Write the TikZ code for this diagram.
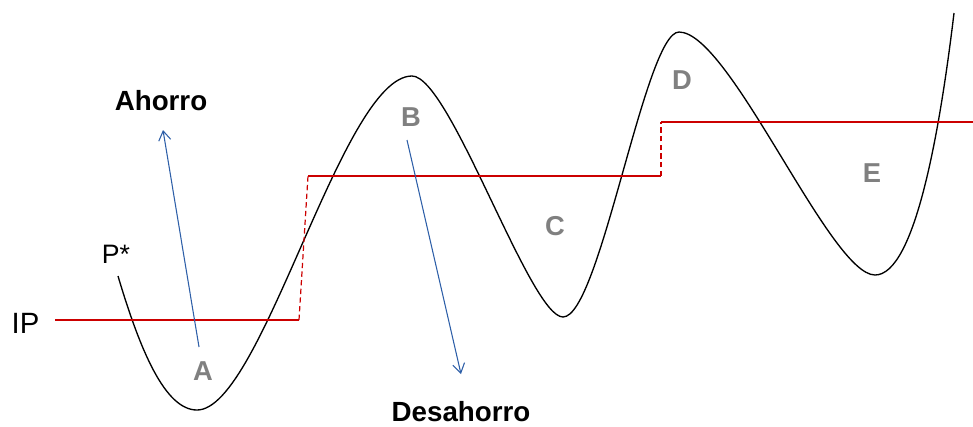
\documentclass[tikz,border=0pt]{standalone}
\usepackage{fontspec}
\setmainfont{Liberation Sans}
\usetikzlibrary{arrows.meta}
\definecolor{ipred}{RGB}{204,0,0}
\definecolor{flowblue}{RGB}{46,95,168}
\definecolor{zonegray}{RGB}{128,128,128}
\begin{document}
\begin{tikzpicture}[x=0.75pt,y=-0.75pt, every node/.style={font=\fontsize{20}{24}\selectfont,inner sep=0pt},
  zone/.style={font=\fontsize{20.5}{24}\selectfont\bfseries,text=zonegray},
  lbl/.style={font=\fontsize{20.8}{24}\selectfont\bfseries},
  ip/.style={draw=ipred,line width=0.9pt},
  jump/.style={ip,dash pattern=on 4pt off 2.5pt},
  flow/.style={draw=flowblue,line width=0.8pt,-{Straight Barb[length=7pt,width=9pt]}}]
\useasboundingbox (0,0) rectangle (973,426);
\draw[line width=1pt] (118,276) .. controls (140,350) and (165,410) .. (197,410)
  .. controls (262,410) and (342,76) .. (412,76) .. controls (450,76) and (530,317) .. (563,317)
  .. controls (600,317) and (645,32) .. (679,32) .. controls (730,32) and (830,275) .. (875,275)
  .. controls (915,275) and (940,130) .. (954,13);
\draw[ip] (55,320) -- (299,320); \draw[jump] (299,320) -- (308,176);
\draw[ip] (308,176) -- (661,176); \draw[jump] (661,176) -- (661,122);
\draw[ip] (661,122) -- (973,122);
\node[font=\fontsize{22}{26}\selectfont] (ip) at (25.5,323.5) {IP};
\node (pstar) at (116,254) {P*};
\node[lbl] (ahorro) at (161,101) {Ahorro};
\node[lbl] (desahorro) at (461,412) {Desahorro};
\node[zone] (a) at (203,371) {A};
\node[zone] (b) at (411,117) {B};
\node[zone] (c) at (555,226) {C};
\node[zone] (d) at (682,80) {D};
\node[zone] (e) at (872,173) {E};
\coordinate (a0) at (199,347); \coordinate (a1) at (163,130);
\coordinate (b0) at (407,140); \coordinate (b1) at (461,374);
\draw[flow] (a0) -- (a1); \draw[flow] (b0) -- (b1);
\end{tikzpicture}
\end{document}
